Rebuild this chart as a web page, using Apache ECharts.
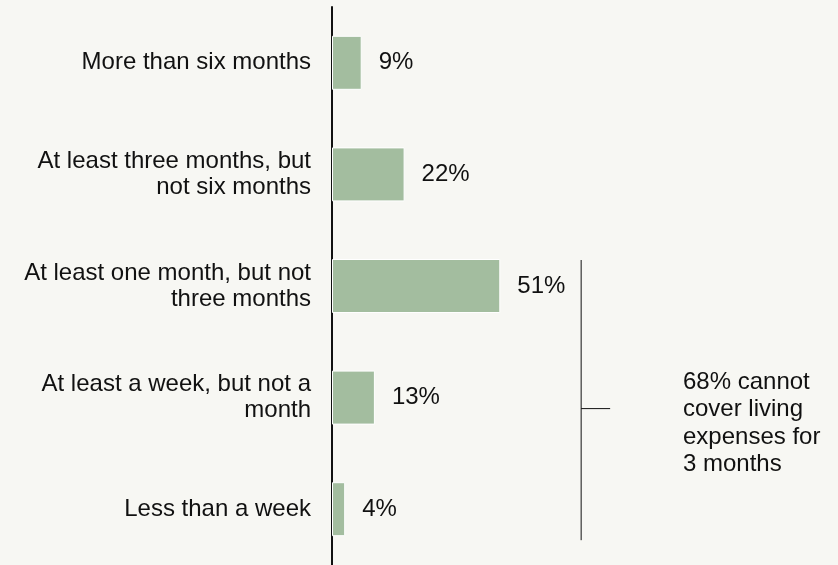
<!DOCTYPE html>
<html>
  <head>
    <meta charset="UTF-8">
    <title>Emergency savings</title>
    <script src="https://cdn.jsdelivr.net/npm/echarts@6/dist/echarts.min.js"></script>
    <style>
      html, body { margin: 0; padding: 0; background: #f7f7f3; }
    </style>
  </head>
  <body>
    <div id="box" style="width:838px;height:565px"></div>
    <script>
        var categories = [
            'More than six months',
            'At least three months, but\nnot six months',
            'At least one month, but not\nthree months',
            'At least a week, but not a\nmonth',
            'Less than a week'
        ];
        var shares = [9, 22, 51, 13, 4];
        var noteText = '68% cannot\ncover living\nexpenses for\n3 months';

        var font = 'Liberation Sans, Arial, sans-serif';
        var myChart = echarts.init(document.getElementById('box'));
        myChart.setOption({
            backgroundColor: '#f7f7f3',
            animation: false,
            grid: {left: 332, right: 176, top: 7, bottom: -3, containLabel: false},
            xAxis: {
                type: 'value', min: 0, max: 100,
                show: false
            },
            yAxis: {
                type: 'category',
                data: categories,
                inverse: true,
                axisLine: {lineStyle: {color: '#111', width: 2}},
                axisTick: {show: false},
                axisLabel: {
                    margin: 21,
                    color: '#111',
                    fontSize: 24,
                    lineHeight: 26,
                    fontFamily: font,
                    align: 'right'
                }
            },
            series: [{
                type: 'bar',
                data: shares,
                barWidth: 54,
                itemStyle: {color: '#a3bd9f', borderColor: '#ffffff', borderWidth: 1},
                label: {
                    show: true,
                    position: 'right',
                    distance: 17,
                    formatter: '{c}%',
                    color: '#111',
                    fontSize: 24,
                    fontFamily: font
                }
            }]
        });

        // bracket around the last three rows
        var yTop = myChart.convertToPixel({yAxisIndex: 0}, 2) - 26;
        var yBottom = myChart.convertToPixel({yAxisIndex: 0}, 4) + 31;
        var yMid = myChart.convertToPixel({yAxisIndex: 0}, 3) + 11;
        var xLine = myChart.convertToPixel({xAxisIndex: 0}, 75.5);
        myChart.setOption({
            graphic: [
                {type: 'line', shape: {x1: xLine, y1: yTop, x2: xLine, y2: yBottom},
                 style: {stroke: '#111', lineWidth: 1}},
                {type: 'line', shape: {x1: xLine, y1: yMid, x2: xLine + 29, y2: yMid},
                 style: {stroke: '#111', lineWidth: 1}},
                {type: 'text', left: 683, top: yMid - 40,
                 style: {text: noteText, fill: '#111', fontSize: 24, lineHeight: 27.5,
                         fontFamily: font}}
            ]
        });
    </script>
  </body>
</html>
